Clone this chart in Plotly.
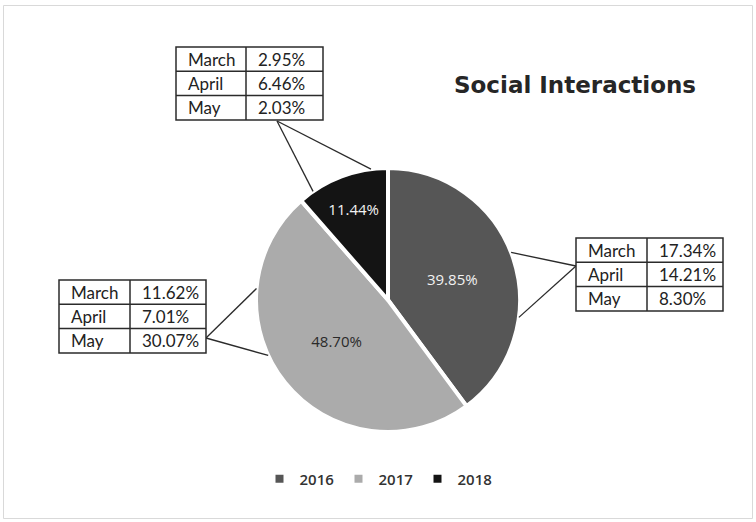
import math
import plotly.graph_objects as go

# Yearly share of social interactions
years = ["2016", "2017", "2018"]
shares = [39.85, 48.70, 11.44]
slice_colors = ["#565656", "#ababab", "#141414"]
label_colors = ["#f2f2f2", "#2a2a2a", "#f2f2f2"]

# Monthly breakdown shown in the call-out tables
months = ["March", "April", "May"]
monthly = {
    "2016": [17.34, 14.21, 8.30],
    "2017": [11.62, 7.01, 30.07],
    "2018": [2.95, 6.46, 2.03],
}

W, H = 756, 522
CX, CY, R = 388, 300, 132  # pie centre and radius in pixels

def px(x):
    return x / W

def py(y):
    return 1 - y / H

fig = go.Figure(go.Pie(
    labels=years,
    values=shares,
    sort=False,
    direction="clockwise",
    rotation=0,
    marker=dict(colors=slice_colors, line=dict(color="white", width=4)),
    texttemplate="%{value:.2f}%",
    textposition="inside",
    insidetextorientation="horizontal",
    textfont=dict(family="Open Sans", size=15, color=label_colors),
    hoverinfo="label+value",
    domain=dict(x=[px(CX - R), px(CX + R)], y=[py(CY + R), py(CY - R)]),
))

shapes = []
annotations = []

# Table placement (left, top, right column split) and where its leader lines meet it
tables = {
    "2018": dict(left=176, top=47, div=246, right=323, anchor=(277, 121), spots=(0.16, 0.82)),
    "2016": dict(left=576, top=238, div=647, right=723, anchor=(576, 266), spots=(0.48, 0.68)),
    "2017": dict(left=59, top=280, div=130, right=206, anchor=(206, 338), spots=(0.58, 0.75)),
}
ROW_H = 24.3
line_col = "#2b2b2b"

total = sum(shares)
starts = {}
acc = 0.0
for yr, v in zip(years, shares):
    starts[yr] = acc / total
    acc += v

for yr, t in tables.items():
    frac0 = starts[yr]
    span = shares[years.index(yr)] / total
    # leader lines from the table to the slice edge
    for s in t["spots"]:
        ang = 2 * math.pi * (frac0 + s * span)
        ex = CX + R * math.sin(ang)
        ey = CY - R * math.cos(ang)
        shapes.append(dict(type="line", xref="paper", yref="paper",
                           x0=px(t["anchor"][0]), y0=py(t["anchor"][1]),
                           x1=px(ex), y1=py(ey),
                           line=dict(color=line_col, width=1.3)))
    bottom = t["top"] + ROW_H * len(months)
    shapes.append(dict(type="rect", xref="paper", yref="paper",
                       x0=px(t["left"]), x1=px(t["right"]),
                       y0=py(bottom), y1=py(t["top"]),
                       fillcolor="white", line=dict(color=line_col, width=1.5)))
    shapes.append(dict(type="line", xref="paper", yref="paper",
                       x0=px(t["div"]), x1=px(t["div"]),
                       y0=py(bottom), y1=py(t["top"]),
                       line=dict(color=line_col, width=1.5)))
    for i, (m, val) in enumerate(zip(months, monthly[yr])):
        if i > 0:
            yy = t["top"] + ROW_H * i
            shapes.append(dict(type="line", xref="paper", yref="paper",
                               x0=px(t["left"]), x1=px(t["right"]),
                               y0=py(yy), y1=py(yy),
                               line=dict(color=line_col, width=1.5)))
        ymid = t["top"] + ROW_H * (i + 0.5)
        annotations.append(dict(xref="paper", yref="paper", x=px(t["left"] + 10), y=py(ymid),
                                text=m, showarrow=False, xanchor="left", yanchor="middle",
                                font=dict(family="Lato", size=17, color="#222222")))
        annotations.append(dict(xref="paper", yref="paper", x=px(t["div"] + 10), y=py(ymid),
                                text=f"{val:.2f}%", showarrow=False, xanchor="left", yanchor="middle",
                                font=dict(family="Lato", size=17, color="#222222")))

# chart frame
shapes.append(dict(type="rect", xref="paper", yref="paper",
                   x0=px(3.5), x1=px(752.5), y0=py(518.5), y1=py(5.5),
                   line=dict(color="#d9d9d9", width=1), layer="below"))

annotations.append(dict(xref="paper", yref="paper", x=px(575), y=py(85),
                        text="<b>Social Interactions</b>", showarrow=False,
                        xanchor="center", yanchor="middle",
                        font=dict(family="DejaVu Sans", size=23, color="#262626")))

fig.update_layout(
    width=W, height=H,
    margin=dict(l=0, r=0, t=0, b=0),
    paper_bgcolor="white",
    plot_bgcolor="white",
    shapes=shapes,
    annotations=annotations,
    showlegend=True,
    legend=dict(orientation="h", x=0.5, xanchor="center", y=py(479), yanchor="middle",
                font=dict(family="Open Sans", size=15, color="#333333", weight=600),
                itemwidth=30, entrywidth=34, traceorder="normal"),
)

fig.write_html("out.html")
